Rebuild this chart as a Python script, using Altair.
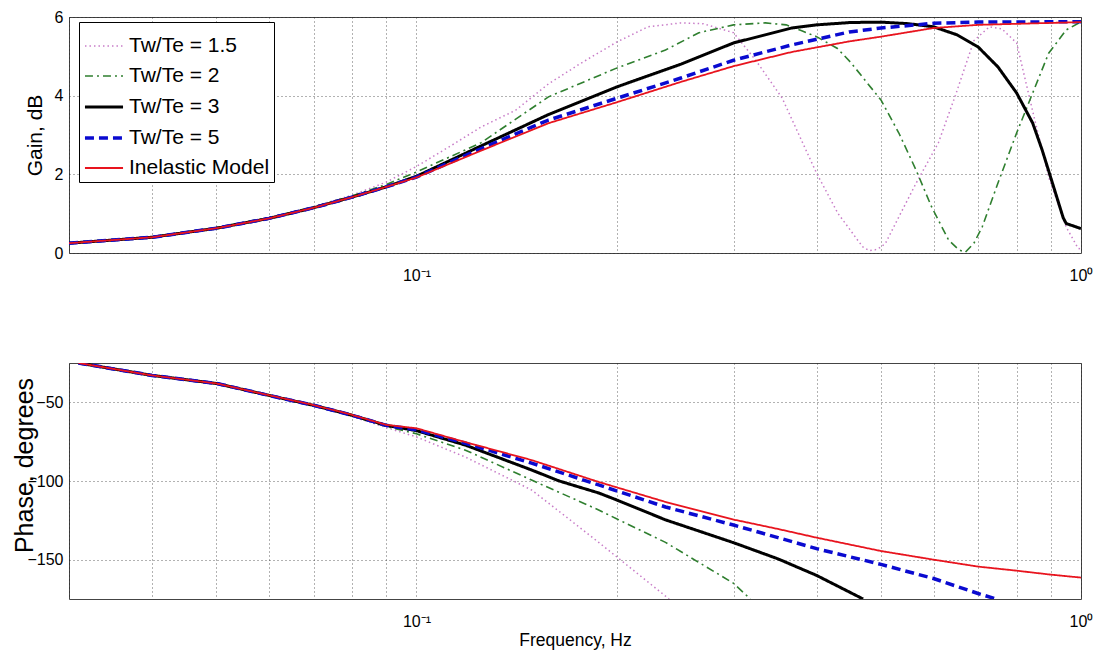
import altair as alt
import pandas as pd

# ---------------- data ----------------
series_names = ["Tw/Te = 1.5", "Tw/Te = 2", "Tw/Te = 3", "Tw/Te = 5", "Inelastic Model"]

# Gain, dB
g15_f = [0.03, 0.04, 0.05, 0.06, 0.07, 0.08, 0.09, 0.1, 0.112, 0.125, 0.141, 0.158, 0.177, 0.2, 0.223,
         0.25, 0.27, 0.3, 0.324, 0.355, 0.4, 0.431, 0.448, 0.46, 0.47, 0.48, 0.49, 0.5, 0.508, 0.532,
         0.565, 0.61, 0.647, 0.69, 0.728, 0.76, 0.8, 0.846, 0.894, 0.95, 0.99, 1.0]
g15_v = [0.25, 0.41, 0.65, 0.9, 1.18, 1.47, 1.8, 2.2, 2.7, 3.2, 3.63, 4.3, 4.83, 5.36, 5.75,
         5.85, 5.83, 5.6, 4.9, 3.94, 2.03, 1.0, 0.62, 0.35, 0.15, 0.06, 0.08, 0.15, 0.25, 0.92,
         1.78, 2.8, 4.0, 5.4, 5.75, 5.7, 5.34, 3.6, 1.93, 0.66, 0.12, 0.1]

g2_f = [0.03, 0.04, 0.05, 0.06, 0.07, 0.08, 0.09, 0.1, 0.125, 0.158, 0.2, 0.237, 0.266, 0.3, 0.335,
        0.36, 0.38, 0.4, 0.43, 0.45, 0.5, 0.532, 0.565, 0.596, 0.632, 0.655, 0.67, 0.69, 0.71, 0.75,
        0.8, 0.846, 0.894, 0.95, 1.0]
g2_v = [0.25, 0.41, 0.65, 0.9, 1.17, 1.45, 1.74, 2.06, 2.8, 3.97, 4.7, 5.16, 5.6, 5.8, 5.85,
        5.8, 5.65, 5.5, 5.2, 4.85, 3.89, 3.05, 2.1, 1.17, 0.33, 0.08, 0.02, 0.25, 0.66, 1.78,
        3.05, 4.07, 5.08, 5.67, 5.88]

g3_f = [0.03, 0.04, 0.05, 0.06, 0.07, 0.08, 0.09, 0.1, 0.125, 0.158, 0.2, 0.25, 0.3, 0.367, 0.4,
        0.45, 0.5, 0.55, 0.6, 0.65, 0.7, 0.75, 0.8, 0.846, 0.874, 0.9, 0.94, 0.95, 1.0]
g3_v = [0.25, 0.4, 0.63, 0.88, 1.15, 1.42, 1.68, 1.95, 2.72, 3.52, 4.22, 4.8, 5.34, 5.72, 5.8,
        5.86, 5.87, 5.83, 5.75, 5.55, 5.24, 4.73, 4.07, 3.3, 2.62, 1.93, 0.9, 0.75, 0.62]

g5_f = [0.03, 0.04, 0.05, 0.06, 0.07, 0.08, 0.09, 0.1, 0.125, 0.158, 0.2, 0.25, 0.3, 0.367, 0.448,
        0.5, 0.6, 0.7, 1.0]
g5_v = [0.25, 0.4, 0.63, 0.88, 1.15, 1.42, 1.68, 1.93, 2.65, 3.38, 3.93, 4.45, 4.9, 5.29, 5.62,
        5.72, 5.84, 5.87, 5.88]

gi_f = [0.03, 0.04, 0.05, 0.06, 0.07, 0.08, 0.09, 0.1, 0.125, 0.158, 0.2, 0.25, 0.3, 0.367, 0.448,
        0.5, 0.6, 0.7, 1.0]
gi_v = [0.25, 0.4, 0.63, 0.88, 1.15, 1.42, 1.68, 1.92, 2.6, 3.3, 3.83, 4.35, 4.75, 5.11, 5.38,
        5.5, 5.72, 5.8, 5.87]

# Phase, degrees
p15_f = [0.031, 0.04, 0.05, 0.06, 0.07, 0.08, 0.09, 0.1, 0.1185, 0.149, 0.168, 0.188, 0.211, 0.24]
p15_v = [-25, -33, -38.5, -45.8, -52.3, -59, -66, -72, -84.8, -105.7, -122.8, -139, -156, -175]

p2_f = [0.031, 0.04, 0.05, 0.06, 0.07, 0.08, 0.09, 0.1, 0.1185, 0.149, 0.188, 0.2, 0.237, 0.3, 0.318]
p2_v = [-25, -33, -38.3, -45.7, -52.1, -58.6, -65.3, -70, -80.4, -99.4, -118.4, -124, -139, -165, -175]

p3_f = [0.031, 0.04, 0.05, 0.06, 0.07, 0.08, 0.09, 0.1, 0.1185, 0.149, 0.164, 0.188, 0.2, 0.237,
        0.3, 0.35, 0.4, 0.47]
p3_v = [-25, -32.9, -38, -45.6, -51.9, -58.2, -64.6, -68, -77.2, -93, -100, -107.6, -112, -124.7,
        -139.2, -149.5, -160, -175]

p5_f = [0.031, 0.04, 0.05, 0.06, 0.07, 0.08, 0.09, 0.1, 0.1185, 0.149, 0.188, 0.237, 0.3, 0.35,
        0.4, 0.5, 0.6, 0.7, 0.745]
p5_v = [-25, -32.9, -38, -45.6, -51.9, -58.2, -64.6, -67.5, -76, -88.6, -102.5, -116.5, -128, -136,
        -143, -153, -162, -171.5, -175]

pi_f = [0.031, 0.04, 0.05, 0.06, 0.07, 0.08, 0.09, 0.1, 0.1185, 0.149, 0.188, 0.237, 0.3, 0.35,
        0.4, 0.5, 0.6, 0.7, 0.8, 0.9, 1.0]
pi_v = [-25, -32.9, -38, -45.5, -51.7, -58, -64.3, -66.5, -75.3, -86.7, -100.6, -113.3, -124.5, -130.5,
        -136, -144.5, -150, -154.4, -157, -159.5, -161.4]

x_grid_values = [0.03, 0.04, 0.05, 0.06, 0.07, 0.08, 0.09, 0.1, 0.2, 0.3, 0.4, 0.5, 0.6, 0.7, 0.8, 0.9, 1.0]
gain_ticks = [0, 2, 4, 6]
phase_ticks = [-150, -100, -50]

series_colors = ["#c87cc8", "#2f7f2f", "#000000", "#0a0ad0", "#e8141e"]
series_dashes = [[1.5, 3], [8, 4, 2, 4], [1, 0], [9, 5], [1, 0]]
series_widths = [1.5, 1.6, 3, 3.5, 1.8]


def build(pairs):
    rows = []
    for name, (fs, vs) in zip(series_names, pairs):
        for f, v in zip(fs, vs):
            rows.append({"series": name, "f": f, "v": v})
    return pd.DataFrame(rows)


gain_df = build([(g15_f, g15_v), (g2_f, g2_v), (g3_f, g3_v), (g5_f, g5_v), (gi_f, gi_v)])
phase_df = build([(p15_f, p15_v), (p2_f, p2_v), (p3_f, p3_v), (p5_f, p5_v), (pi_f, pi_v)])

FONT = "Liberation Sans"
W, H = 1012, 236

label_expr = "datum.value == 0.1 ? '10⁻¹' : (datum.value == 1 ? '10⁰' : '')"


def x_enc(title=None, **kw):
    return alt.X(
        "f:Q",
        scale=alt.Scale(type="log", domain=[0.03, 1], nice=False),
        axis=alt.Axis(values=x_grid_values, labelExpr=label_expr, labelOverlap=False,
                      labelFlush=False, ticks=False, labelPadding=14, title=title, **kw),
    )


def style_enc(show_legend):
    if show_legend:
        leg = alt.Legend(
            orient="none", legendX=10, legendY=5, title=None, symbolType="stroke",
            symbolSize=1450, labelFont=FONT, labelFontSize=21, labelColor="black",
            fillColor="white", strokeColor="black", padding=4, rowPadding=0,
            labelOffset=4, symbolLimit=10,
        )
    else:
        leg = None
    return dict(
        color=alt.Color("series:N", scale=alt.Scale(domain=series_names, range=series_colors),
                        legend=leg, sort=series_names),
        strokeDash=alt.StrokeDash("series:N", scale=alt.Scale(domain=series_names, range=series_dashes),
                                  legend=leg, sort=series_names),
        strokeWidth=alt.StrokeWidth("series:N",
                                    scale=alt.Scale(type="ordinal", domain=series_names, range=series_widths),
                                    legend=leg, sort=series_names),
    )


top = alt.Chart(gain_df).mark_line(clip=True).encode(
    x=x_enc(),
    y=alt.Y("v:Q", scale=alt.Scale(domain=[0, 6], nice=False),
            axis=alt.Axis(values=gain_ticks, title="Gain, dB", titleX=-34, titleY=H / 2,
                          titleBaseline="middle", titleFontSize=21,
                          ticks=False, labelPadding=6)),
    **style_enc(True),
).properties(width=W, height=H)

bottom = alt.Chart(phase_df).mark_line(clip=True).encode(
    x=x_enc(title="Frequency, Hz", titleY=41, titleBaseline="middle"),
    y=alt.Y("v:Q", scale=alt.Scale(domain=[-175, -25], nice=False),
            axis=alt.Axis(values=phase_ticks, title="Phase, degrees", titleX=-45, titleY=102,
                          titleBaseline="middle", titleFontSize=25,
                          ticks=False, labelPadding=6)),
    **style_enc(False),
).properties(width=W, height=H)

chart = alt.vconcat(top, bottom, spacing=78).resolve_legend(
    color="independent", strokeDash="independent", strokeWidth="independent"
).resolve_scale(
    color="independent", strokeDash="independent", strokeWidth="independent"
).configure(
    background="white", padding={"left": 11, "top": 8, "right": 2, "bottom": 4}
).configure_view(
    stroke="#444", strokeWidth=1
).configure_axis(
    labelFont=FONT, labelFontSize=16, labelColor="black",
    titleFont=FONT, titleFontSize=17.5, titleColor="black", titleFontWeight="normal",
    grid=True, gridColor="#222", gridDash=[1, 3], gridOpacity=0.7, gridWidth=1,
    domain=False,
)

chart.save("out.html", embed_options={"renderer": "svg", "actions": False})
